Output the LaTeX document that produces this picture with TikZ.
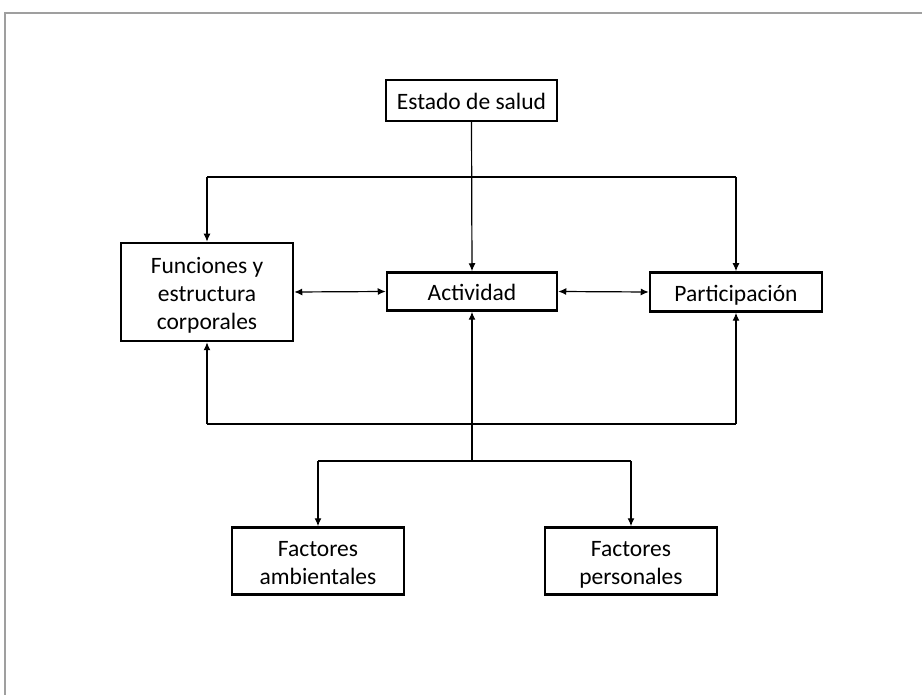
\documentclass[tikz,border=0pt]{standalone}
\usepackage{fontspec}
\setmainfont{Carlito}
\usetikzlibrary{arrows.meta}
\newcommand{\lnstrut}{\rule[-4pt]{0pt}{27pt}}
\begin{document}
\begin{tikzpicture}[x=1pt,y=-1pt,
  box/.style={draw=black,line width=2.5pt,fill=white,align=center,inner sep=0pt,
    font=\fontsize{23.5}{28}\selectfont},
  conn/.style={draw=black,line width=1.2pt},
  arr/.style={conn,-{Latex[length=8pt,width=7pt]}},
  biarr/.style={conn,{Latex[length=8pt,width=7pt]}-{Latex[length=8pt,width=7pt]}},
  frame/.style={draw=gray!75,line width=1.2pt}]
\useasboundingbox (0,0) rectangle (922,695);
\fill[white] (0,0) rectangle (922,695);
\draw[frame] (5,720) -- (5,13) -- (940,13);

\node[box,minimum width=171pt,minimum height=41pt] (estado) at (471.5,100.5) {\lnstrut Estado de salud};
\node[box,minimum width=172pt,minimum height=98pt] (func) at (207,292) {\lnstrut Funciones y\\\lnstrut estructura\\\lnstrut corporales};
\node[box,minimum width=170pt,minimum height=38pt] (act) at (472,291.5) {\lnstrut Actividad};
\node[box,minimum width=172pt,minimum height=39pt] (part) at (736,292) {\lnstrut Participación};
\node[box,minimum width=172pt,minimum height=67pt] (amb) at (318,561) {\lnstrut Factores\\\lnstrut ambientales};
\node[box,minimum width=172pt,minimum height=67pt] (pers) at (631,561) {\lnstrut Factores\\\lnstrut personales};

\coordinate (tl) at (207,177);
\coordinate (tr) at (736,177);
\coordinate (bl) at (207,424);
\coordinate (br) at (736,424);
\coordinate (fm) at (472,461);
\coordinate (fl) at (318,461);
\coordinate (fr) at (631,461);

\draw[arr] (estado.south) -- (act.north);
\draw[conn] (tl) -- (tr);
\draw[arr] (tl) -- (func.north);
\draw[arr] (tr) -- (part.north);
\draw[biarr] (func.east) -- (act.west);
\draw[biarr] (act.east) -- (part.west);
\draw[conn] (bl) -- (br);
\draw[arr] (bl) -- (func.south);
\draw[arr] (br) -- (part.south);
\draw[arr] (fm) -- (act.south);
\draw[conn] (fl) -- (fr);
\draw[arr] (fl) -- (amb.north);
\draw[arr] (fr) -- (pers.north);
\end{tikzpicture}
\end{document}
